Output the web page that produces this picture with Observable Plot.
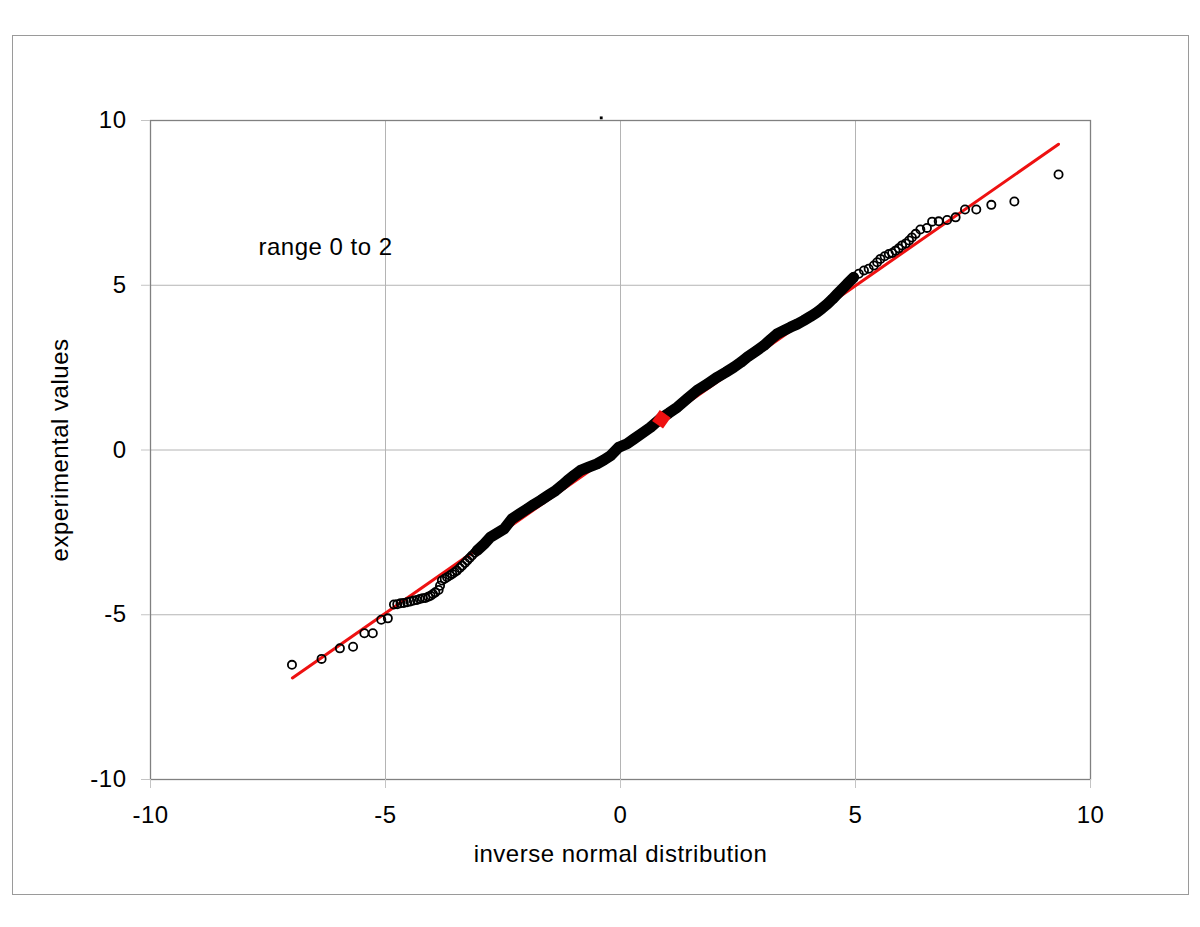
<!DOCTYPE html>
<html>
<head>
<meta charset="utf-8">
<script src="https://cdn.jsdelivr.net/npm/d3@7"></script>
<script src="https://cdn.jsdelivr.net/npm/@observablehq/plot@0.6"></script>
<style>
  html, body { margin: 0; padding: 0; background: #fff; }
  #wrap { position: relative; width: 1200px; height: 927px; }
  #border { position: absolute; left: 12px; top: 35px; width: 1175px; height: 858px; border: 1px solid #9a9a9a; }
  #chart { position: absolute; left: 0; top: 0; }
  #chart text { letter-spacing: 0.5px; }
</style>
</head>
<body>
<div id="wrap"><div id="border"></div><div id="chart"></div></div>
<script>
// Left tail (individual circles)
const tailLX = [-6.99,-6.36,-5.97,-5.69,-5.45,-5.27,-5.09,-4.95,-4.82,-4.75,-4.68,-4.61,-4.54,-4.47,-4.40,-4.33,-4.27,-4.21,-4.15,-4.09,-4.04,-3.99,-3.94,-3.87,-3.84,-3.80,-3.74,-3.69,-3.63,-3.58,-3.53,-3.48,-3.42,-3.37,-3.31,-3.26,-3.21,-3.16,-3.10];
const tailLY = [-6.52,-6.34,-6.02,-5.97,-5.56,-5.56,-5.15,-5.11,-4.69,-4.68,-4.65,-4.64,-4.62,-4.60,-4.57,-4.55,-4.52,-4.50,-4.49,-4.45,-4.42,-4.37,-4.32,-4.25,-4.12,-3.96,-3.91,-3.86,-3.81,-3.76,-3.71,-3.66,-3.58,-3.51,-3.43,-3.35,-3.28,-3.20,-3.12];
// Dense central band (centre line of the overlapping circles)
const bandX = [-3.05,-2.90,-2.77,-2.62,-2.48,-2.31,-2.15,-1.99,-1.85,-1.70,-1.54,-1.38,-1.25,-1.13,-0.99,-0.85,-0.68,-0.50,-0.35,-0.21,-0.04,0.14,0.28,0.46,0.64,0.85,1.03,1.21,1.42,1.63,1.85,2.06,2.24,2.41,2.56,2.70,2.88,3.05,3.19,3.33,3.48,3.62,3.76,3.90,4.04,4.18,4.29,4.40,4.51,4.61,4.72,4.82,4.96];
const bandY = [-3.05,-2.85,-2.65,-2.52,-2.40,-2.09,-1.94,-1.79,-1.66,-1.53,-1.38,-1.23,-1.08,-0.93,-0.77,-0.62,-0.52,-0.42,-0.30,-0.17,0.08,0.19,0.33,0.51,0.69,0.95,1.12,1.30,1.56,1.81,2.01,2.21,2.36,2.51,2.66,2.82,3.00,3.17,3.35,3.52,3.63,3.73,3.82,3.93,4.05,4.18,4.30,4.43,4.58,4.73,4.89,5.04,5.24];
// Right tail (individual circles)
const tailRX = [5.07,5.18,5.28,5.39,5.46,5.53,5.62,5.71,5.78,5.85,5.92,5.99,6.07,6.14,6.20,6.28,6.38,6.52,6.63,6.77,6.95,7.13,7.33,7.57,7.89,8.38,9.32];
const tailRY = [5.35,5.45,5.50,5.60,5.70,5.80,5.88,5.95,5.98,6.05,6.12,6.21,6.27,6.36,6.45,6.56,6.69,6.74,6.93,6.94,6.98,7.06,7.30,7.30,7.44,7.54,8.36];
// Reference (fit) line
const fitX = [-6.98, 9.32];
const fitY = [-6.92, 9.28];
// Highlighted (red) point and stray marker
const markX = [0.87];
const markY = [0.93];
const strayX = [-0.41];
const strayY = [10.08];
// Ticks and labels
const ticks = [-10, -5, 0, 5, 10];
const gridTicks = [-5, 0, 5];
const xLabel = "inverse normal distribution";
const yLabel = "experimental values";
const note = "range 0 to 2";

const zip = (xs, ys) => xs.map((x, i) => ({x, y: ys[i]}));
const pts = [...zip(tailLX, tailLY), ...zip(bandX, bandY), ...zip(tailRX, tailRY)];
const band = zip(bandX, bandY);
const fit = zip(fitX, fitY);

const FS = 24;
const chart = Plot.plot({
  width: 1200, height: 927,
  marginTop: 120, marginBottom: 148, marginLeft: 150, marginRight: 110,
  x: {domain: [-10, 10]},
  y: {domain: [-10, 10]},
  style: {fontFamily: "'Liberation Sans', Arial, Helvetica, sans-serif", fontSize: FS + "px", background: "transparent", overflow: "visible"},
  marks: [
    Plot.gridX(gridTicks, {stroke: "#b4b4b4", strokeOpacity: 1}),
    Plot.gridY(gridTicks, {stroke: "#b4b4b4", strokeOpacity: 1}),
    Plot.frame({stroke: "#808080", strokeWidth: 1.3}),
    Plot.line(fit, {x: "x", y: "y", stroke: "#ee1111", strokeWidth: 3}),
    Plot.line(band, {x: "x", y: "y", stroke: "#000", strokeWidth: 11, strokeLinecap: "round", strokeLinejoin: "round"}),
    Plot.dot(pts, {x: "x", y: "y", r: 4.1, stroke: "#000", strokeWidth: 1.8, fill: "none"}),
    Plot.dot(zip(markX, markY), {x: "x", y: "y", symbol: "square", r: 7.5, fill: "#ee1111", rotate: 35}),
    Plot.dot(zip(strayX, strayY), {x: "x", y: "y", symbol: "square", r: 1.6, fill: "#000"}),
    Plot.axisX(ticks, {tickSize: 9, tickPadding: 17, stroke: "#c4c4c4", fill: "#000", fontSize: FS, tickFormat: d => String(d), label: null}),
    Plot.axisY(ticks, {tickSize: 9, tickPadding: 15, stroke: "#c4c4c4", fill: "#000", fontSize: FS, tickFormat: d => String(d), label: null}),
    Plot.text([xLabel], {frameAnchor: "bottom", dy: 75, textAnchor: "middle", lineAnchor: "middle", fontSize: FS, fill: "#000"}),
    Plot.text([yLabel], {frameAnchor: "left", dx: -90, rotate: -90, textAnchor: "middle", lineAnchor: "middle", fontSize: FS, fill: "#000"}),
    Plot.text([note], {frameAnchor: "top-left", dx: 108, dy: 126.6, textAnchor: "start", lineAnchor: "middle", fontSize: FS, fill: "#000"})
  ]
});
document.getElementById("chart").appendChild(chart);
</script>
</body>
</html>
